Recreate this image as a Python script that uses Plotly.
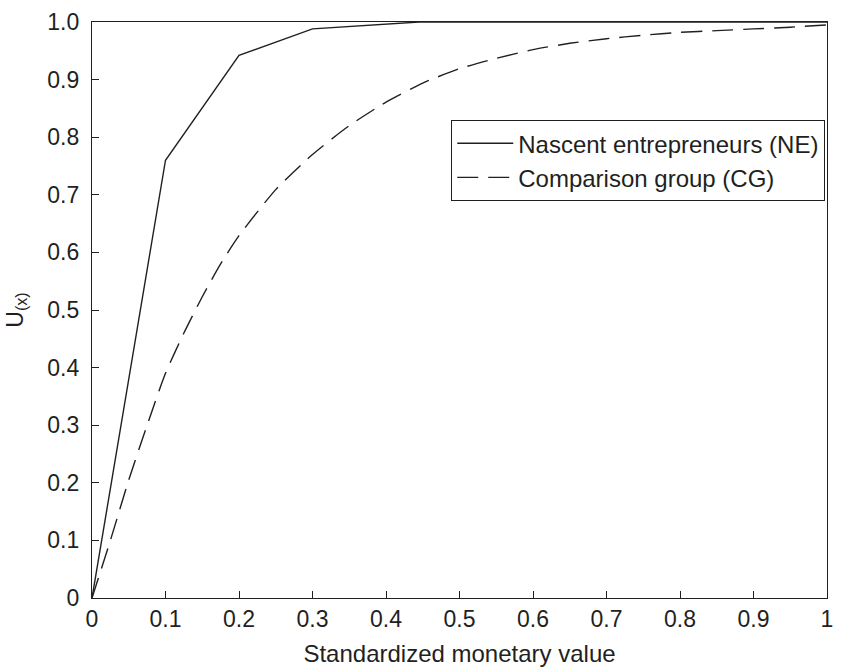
import plotly.graph_objects as go

ne_x = [0, 0.1, 0.2, 0.3, 0.445, 0.5, 0.6, 0.7, 0.8, 0.9, 1.0]
ne_y = [0, 0.76, 0.942, 0.988, 1.0, 1.0, 1.0, 1.0, 1.0, 1.0, 1.0]

cg_x = [0, 0.025, 0.05, 0.075, 0.1, 0.125, 0.15, 0.175, 0.2, 0.25, 0.3, 0.35,
        0.4, 0.45, 0.5, 0.55, 0.6, 0.65, 0.7, 0.75, 0.8, 0.85, 0.9, 0.95, 1.0]
cg_y = [0, 0.10, 0.205, 0.30, 0.39, 0.46, 0.523, 0.58, 0.629, 0.709, 0.77, 0.82,
        0.861, 0.894, 0.919, 0.937, 0.952, 0.963, 0.971, 0.977, 0.982, 0.985, 0.988, 0.991, 0.995]

x_ticks = [0, 0.1, 0.2, 0.3, 0.4, 0.5, 0.6, 0.7, 0.8, 0.9, 1.0]
x_labels = ["0", "0.1", "0.2", "0.3", "0.4", "0.5", "0.6", "0.7", "0.8", "0.9", "1"]
y_ticks = [0, 0.1, 0.2, 0.3, 0.4, 0.5, 0.6, 0.7, 0.8, 0.9, 1.0]
y_labels = ["0", "0.1", "0.2", "0.3", "0.4", "0.5", "0.6", "0.7", "0.8", "0.9", "1.0"]

ink = "#231f20"
font = "Arial, Liberation Sans, Helvetica, sans-serif"

fig = go.Figure()
fig.add_trace(go.Scatter(x=ne_x, y=ne_y, mode="lines", name="Nascent entrepreneurs (NE)",
                         line=dict(color=ink, width=1.4)))
fig.add_trace(go.Scatter(x=cg_x, y=cg_y, mode="lines", name="Comparison group (CG)",
                         line=dict(color=ink, width=1.4, dash="21px,10px", shape="spline", smoothing=0.6)))

axis_common = dict(showgrid=False, zeroline=False, showline=True, linecolor=ink, linewidth=1.4,
                   mirror=True, ticks="inside", ticklen=7, tickwidth=1.4, tickcolor=ink,
                   tickfont=dict(family=font, size=23, color=ink))
fig.update_xaxes(range=[0, 1], tickvals=x_ticks, ticktext=x_labels,
                 title=dict(text="Standardized monetary value", font=dict(family=font, size=24, color=ink), standoff=14),
                 **axis_common)
fig.update_yaxes(range=[0, 1], tickvals=y_ticks, ticktext=y_labels, ticklabelstandoff=7,
                 title=dict(text="U<sub>(x)</sub>", font=dict(family=font, size=23, color=ink), standoff=17),
                 **axis_common)

fig.update_layout(
    width=842, height=672,
    margin=dict(l=92, r=9, t=14, b=72),
    paper_bgcolor="white", plot_bgcolor="white",
    font=dict(family=font, size=23, color=ink),
    showlegend=True,
    legend=dict(x=0.4885, y=0.83, xanchor="left", yanchor="top",
                bordercolor=ink, borderwidth=1.2, bgcolor="white",
                font=dict(family=font, size=24, color=ink),
                tracegroupgap=0, itemwidth=56),
)

fig.write_html("out.html")
